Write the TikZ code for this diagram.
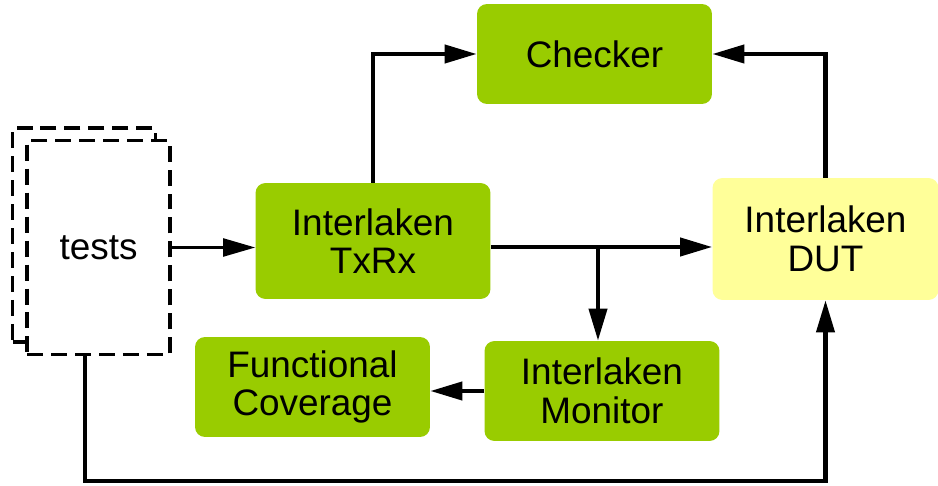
\documentclass[tikz,border=0pt]{standalone}
\usepackage{fontspec}
\setmainfont{Liberation Sans}
\usetikzlibrary{arrows.meta}
\definecolor{lime}{HTML}{99CC00}
\definecolor{pale}{HTML}{FFFF99}

\begin{document}
\begin{tikzpicture}[x=0.02cm, y=-0.02cm,
  every node/.style={align=center, font=\fontsize{21}{22}\selectfont},
  block/.style={fill=lime, rounded corners=0.2cm, minimum width=4.7cm, minimum height=2cm, inner sep=0pt},
  dut/.style={block, fill=pale, minimum width=4.52cm, minimum height=2.44cm},
  sheet/.style={draw, fill=white, dashed, dash pattern=on 0.32cm off 0.16cm, line width=2pt, minimum width=2.86cm, minimum height=4.28cm, inner sep=0pt},
  link/.style={line width=2.3pt, -{Triangle[length=0.64cm, width=0.36cm]}}
]
\useasboundingbox (0,0) rectangle (938,486);

% test stack
\node[sheet] (tests0) at (84,235) {};
\node[sheet] (tests) at (98.5,247.5) {tests};

% blocks
\node[block, minimum height=2.32cm] (txrx) at (373,241) {Interlaken\\TxRx};
\node[block] (checker) at (594.5,54) {Checker};
\node[dut] (dut) at (825.5,239) {Interlaken\\DUT};
\node[block] (monitor) at (602,391) {Interlaken\\Monitor};
\node[block] (cov) at (312.5,387) {Functional\\Coverage};

\coordinate (tap) at (598,247);
\coordinate (bot) at (0,481);
\coordinate (feed) at (85,355);

% connections
\draw[link, line width=1.3pt] (tests.east) -- (tests.east -| txrx.west);
\draw[link] (txrx.east |- tap) -- (dut.west |- tap);
\draw[link] (tap) -- (tap |- monitor.north);
\draw[link] (monitor.west) -- (monitor.west -| cov.east);
\draw[link] (txrx.north) |- (checker.west);
\draw[link] (dut.north) |- (checker.east);
\draw[link] (feed) -- (feed |- bot) -| (dut.south);
\end{tikzpicture}
\end{document}
